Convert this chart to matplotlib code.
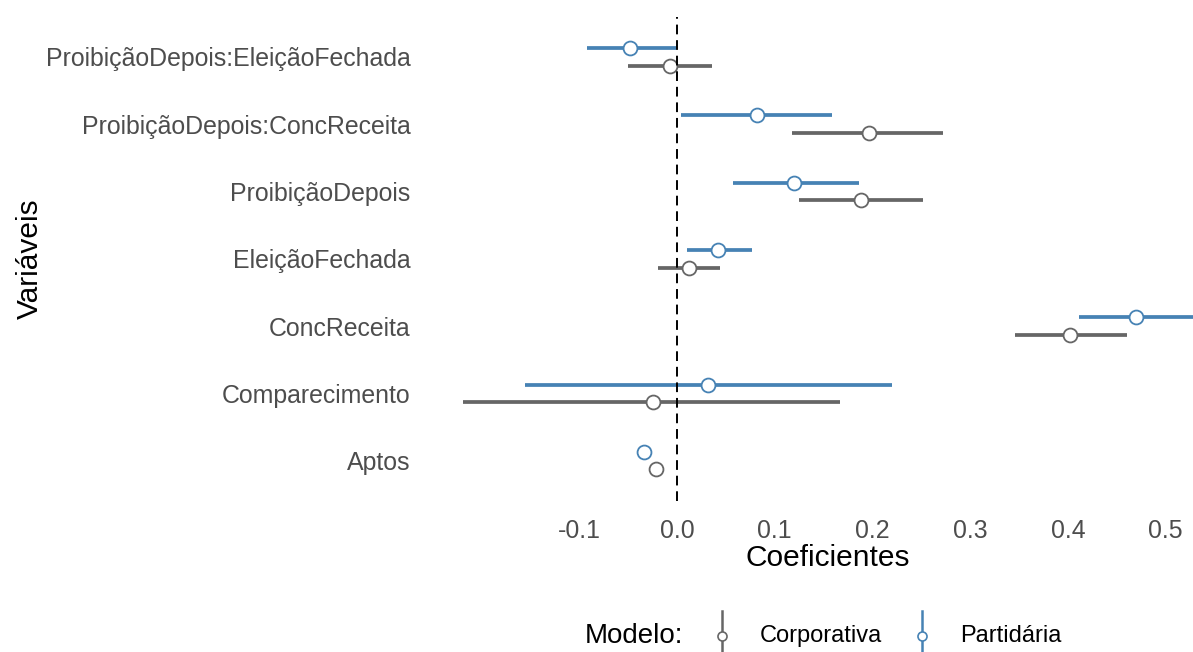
import matplotlib
matplotlib.use("Agg")
import matplotlib.pyplot as plt
from matplotlib.lines import Line2D

plt.rcParams['font.family'] = ['Liberation Sans', 'DejaVu Sans']

# Regression terms, bottom to top
variaveis = ["Aptos", "Comparecimento", "ConcReceita", "EleiçãoFechada",
             "ProibiçãoDepois", "ProibiçãoDepois:ConcReceita",
             "ProibiçãoDepois:EleiçãoFechada"]

# Corporativa model: estimate and 95% interval
corp_est = [-0.021, -0.025, 0.402, 0.012, 0.188, 0.196, -0.007]
corp_lo = [-0.024, -0.219, 0.346, -0.019, 0.125, 0.118, -0.050]
corp_hi = [-0.018, 0.167, 0.460, 0.044, 0.252, 0.272, 0.036]

# Partidária model: estimate and 95% interval
part_est = [-0.034, 0.032, 0.470, 0.042, 0.120, 0.082, -0.048]
part_lo = [-0.036, -0.156, 0.411, 0.010, 0.057, 0.004, -0.092]
part_hi = [-0.031, 0.220, 0.530, 0.077, 0.186, 0.159, -0.001]

x_ticks = [-0.1, 0.0, 0.1, 0.2, 0.3, 0.4, 0.5]

modelos = [
    ("Corporativa", "#666666", corp_est, corp_lo, corp_hi, -0.13),
    ("Partidária", "#4682B4", part_est, part_lo, part_hi, 0.13),
]

W, H = 1193, 652
fig = plt.figure(figsize=(W / 100, H / 100), dpi=100)
fig.patch.set_facecolor("white")

ax_l, ax_r, ax_t, ax_b = 420, 1236, 16.6, 501
ax = fig.add_axes([ax_l / W, 1 - ax_b / H, (ax_r - ax_l) / W, (ax_b - ax_t) / H])

pos = list(range(1, len(variaveis) + 1))
for nome, cor, est, lo, hi, off in modelos:
    ys = [p + off for p in pos]
    ax.hlines(ys, lo, hi, color=cor, lw=2.7, zorder=2)
    ax.plot(est, ys, ls="none", marker="o", ms=10, mfc="white", mec=cor,
            mew=1.3, zorder=3)

ax.axvline(0, color="black", lw=1.4, ls=(0, (5, 3)), zorder=4)

ax.set_xlim(-0.263, 0.572)
ax.set_ylim(0.4, 7.6)
ax.set_yticks(pos)
ax.set_yticklabels(variaveis)
ax.set_xticks(x_ticks)
ax.set_xticklabels([f"{v:.1f}" for v in x_ticks])
ax.tick_params(axis="both", length=0, colors="#4D4D4D", labelsize=17.9)
ax.tick_params(axis="x", pad=13)
ax.tick_params(axis="y", pad=7)
for s in ax.spines.values():
    s.set_visible(False)

ax.set_xlabel("Coeficientes", fontsize=21.5, color="black")
ax.xaxis.label.set_va("center")
ax.xaxis.set_label_coords(0.5, (ax_b - 558) / (ax_b - ax_t))
ax.set_ylabel("Variáveis", fontsize=21.5, color="black")
ax.yaxis.label.set_va("center")
ax.yaxis.set_label_coords((30 - ax_l) / (ax_r - ax_l), 0.5)

# Legend along the bottom
ly = 1 - 636 / H
fig.text(585 / W, ly, "Modelo:", fontsize=20, color="black", va="center", ha="left")
for (nome, cor, *_), kx, tx in zip(modelos, [722, 922], [760, 960]):
    fig.add_artist(Line2D([kx / W, kx / W], [1 - 611 / H, 1 - 661 / H],
                          transform=fig.transFigure, color=cor, lw=1.8))
    fig.add_artist(Line2D([kx / W], [ly], transform=fig.transFigure, ls="none",
                          marker="o", ms=6.5, mfc="white", mec=cor, mew=1.2))
    fig.text(tx / W, ly, nome, fontsize=17, color="black", va="center", ha="left")

fig.savefig("out.png", dpi=100)
